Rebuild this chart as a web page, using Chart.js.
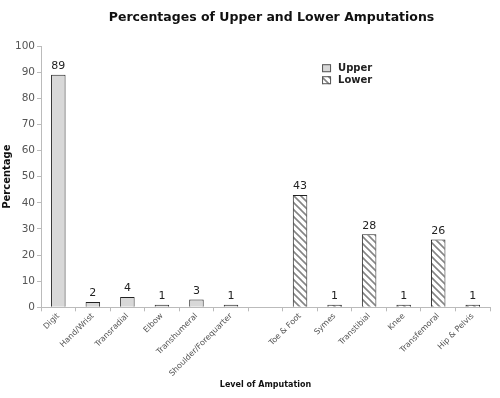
<!DOCTYPE html>
<html>
<head>
<meta charset="utf-8">
<script src="https://cdn.jsdelivr.net/npm/chart.js@4/dist/chart.umd.min.js"></script>
<style>
  html, body { margin: 0; padding: 0; background: #fff; }
  #wrap { width: 500px; height: 398px; }
</style>
</head>
<body>
<div id="wrap"><canvas id="chart" width="500" height="398"></canvas></div>
<script>
const levels = ['Digit', 'Hand/Wrist', 'Transradial', 'Elbow', 'Transhumeral', 'Shoulder/Forequarter', '',
  'Toe & Foot', 'Symes', 'Transtibial', 'Knee', 'Transfemoral', 'Hip & Pelvis'];
const upperPct = [89, 2, 4, 1, 3, 1, null, null, null, null, null, null, null];
const lowerPct = [null, null, null, null, null, null, null, 43, 1, 28, 1, 26, 1];
const yTicks = [0, 10, 20, 30, 40, 50, 60, 70, 80, 90, 100];
const chartTitle = 'Percentages of Upper and Lower Amputations';

const FONT = '"DejaVu Sans", Verdana, sans-serif';

function hatch() {
  const c = document.createElement('canvas');
  c.width = 7; c.height = 7;
  const g = c.getContext('2d');
  g.fillStyle = '#ffffff';
  g.fillRect(0, 0, 7, 7);
  g.strokeStyle = '#858585';
  g.lineWidth = 1.6;
  g.beginPath();
  g.moveTo(-1, -1); g.lineTo(8, 8);
  g.moveTo(-8, -1); g.lineTo(1, 8);
  g.moveTo(6, -1); g.lineTo(15, 8);
  g.stroke();
  return g.createPattern(c, 'repeat');
}
const hatchFill = hatch();

const valueLabels = {
  id: 'valueLabels',
  afterDatasetsDraw(chart) {
    const ctx = chart.ctx;
    ctx.save();
    ctx.font = '11px ' + FONT;
    ctx.fillStyle = '#222';
    ctx.textAlign = 'center';
    ctx.textBaseline = 'bottom';
    chart.data.datasets.forEach((ds, i) => {
      chart.getDatasetMeta(i).data.forEach((bar, j) => {
        if (ds.data[j] == null) return;
        ctx.fillText(ds.data[j], bar.x, bar.y - 3);
      });
    });
    ctx.restore();
  }
};

// title sits over the plot area, a bit right of the canvas centre
const plotTitle = {
  id: 'plotTitle',
  afterDraw(chart) {
    const ctx = chart.ctx;
    const a = chart.chartArea;
    ctx.save();
    ctx.font = 'bold 12.5px ' + FONT;
    ctx.fillStyle = '#111';
    ctx.textAlign = 'center';
    ctx.textBaseline = 'middle';
    ctx.fillText(chartTitle, (a.left + a.right) / 2 + 6, 18);
    ctx.restore();
  }
};

const sideLegend = {
  id: 'sideLegend',
  afterDraw(chart) {
    const ctx = chart.ctx;
    const x = chart.scales.x.getPixelForValue(7) + 22;
    const y = chart.scales.y.getPixelForValue(91.5);
    ctx.save();
    ctx.font = 'bold 10px ' + FONT;
    ctx.textBaseline = 'middle';
    chart.data.datasets.forEach((ds, i) => {
      const yy = y + i * 12;
      ctx.fillStyle = ds.backgroundColor;
      ctx.fillRect(x, yy - 4, 9, 8);
      ctx.strokeStyle = '#555';
      ctx.lineWidth = 1;
      ctx.strokeRect(x + 0.5, yy - 3.5, 8, 7);
      ctx.fillStyle = '#222';
      ctx.fillText(ds.label, x + 16, yy);
    });
    ctx.restore();
  }
};

new Chart(document.getElementById('chart'), {
  type: 'bar',
  data: {
    labels: levels,
    datasets: [
      { label: 'Upper', data: upperPct, backgroundColor: '#d8d8d8', borderColor: '#222', borderWidth: 1, grouped: false, barPercentage: 0.42, categoryPercentage: 1 },
      { label: 'Lower', data: lowerPct, backgroundColor: hatchFill, borderColor: '#222', borderWidth: 1, grouped: false, barPercentage: 0.42, categoryPercentage: 1 }
    ]
  },
  options: {
    responsive: false,
    animation: false,
    layout: { padding: { left: 1, right: 10, top: 46, bottom: 4 } },
    plugins: {
      legend: { display: false },
      tooltip: { enabled: false },
      title: { display: false }
    },
    scales: {
      x: {
        grid: { display: true, drawOnChartArea: false, tickLength: 4, color: '#bbb' },
        border: { color: '#bbb' },
        ticks: { maxRotation: 45, minRotation: 45, autoSkip: false, color: '#555', font: { family: FONT, size: 8 }, padding: 0 },
        title: { display: true, text: 'Level of Amputation', font: { family: FONT, size: 8, weight: 'bold' }, color: '#111', padding: { top: 2 } }
      },
      y: {
        min: 0, max: 100,
        afterBuildTicks(axis) { axis.ticks = yTicks.map(v => ({ value: v })); },
        grid: { display: true, drawOnChartArea: false, tickLength: 4, color: '#bbb' },
        border: { color: '#bbb' },
        ticks: { color: '#555', font: { family: FONT, size: 10.5 }, padding: 2 },
        title: { display: true, text: 'Percentage', font: { family: FONT, size: 10, weight: 'bold' }, color: '#111', padding: 0 }
      }
    }
  },
  plugins: [valueLabels, plotTitle, sideLegend]
});
</script>
</body>
</html>
